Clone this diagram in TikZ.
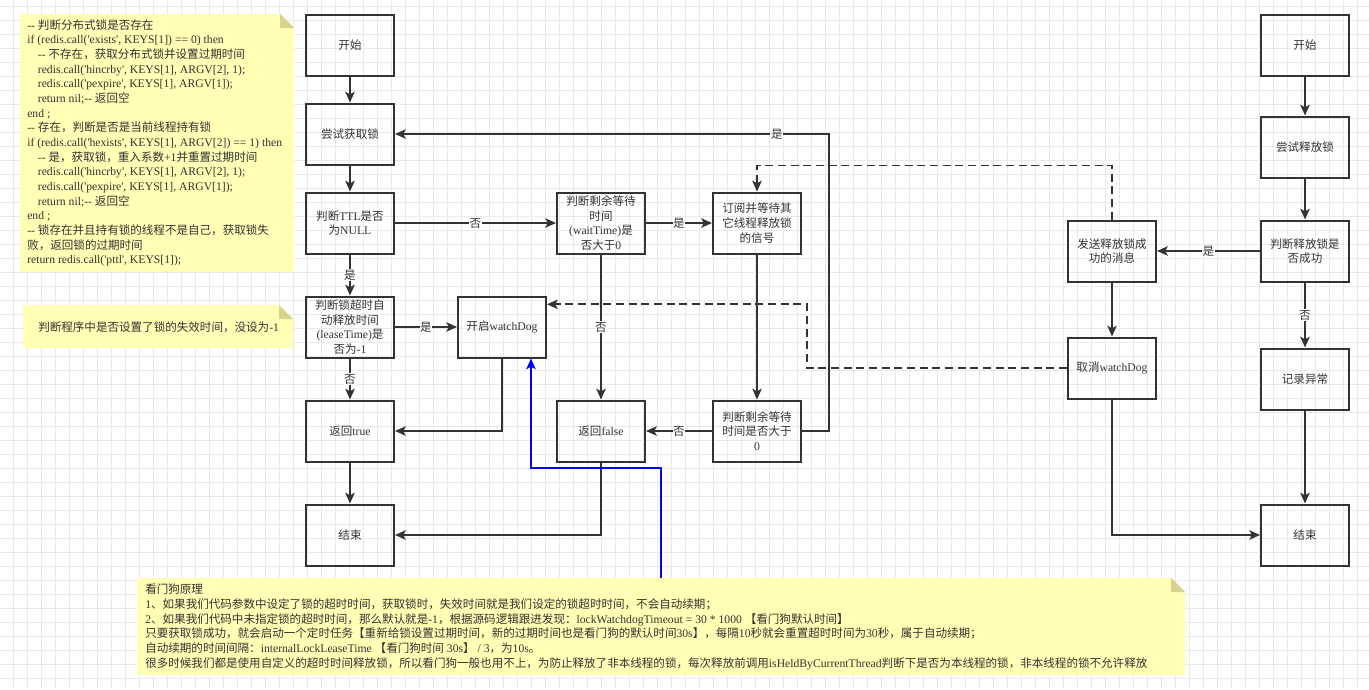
\documentclass[tikz,border=0pt]{standalone}
\usepackage{fontspec}
\setmainfont{Liberation Serif}[Ligatures=TeXOff]
\newfontfamily\cjkfont{Noto Sans CJK SC}[Scale=0.99]
\usetikzlibrary{arrows.meta}
\definecolor{linegray}{HTML}{333333}
\definecolor{gridline}{HTML}{E9E9E9}
\definecolor{notefill}{HTML}{FFFFB5}
\definecolor{notefold}{HTML}{D6D38C}
% Chinese characters get the CJK font
\XeTeXinterchartokenstate=1
\newXeTeXintercharclass\zhclass
\count255="3000 \loop\ifnum\count255<"3040 \XeTeXcharclass\count255=\zhclass\advance\count255 by 1 \repeat
\count255="4E00 \loop\ifnum\count255<"A000 \XeTeXcharclass\count255=\zhclass\advance\count255 by 1 \repeat
\count255="FF00 \loop\ifnum\count255<"FFF0 \XeTeXcharclass\count255=\zhclass\advance\count255 by 1 \repeat
\XeTeXinterchartoks 0 \zhclass = {\cjkfont}
\XeTeXinterchartoks 4095 \zhclass = {\cjkfont}
\XeTeXinterchartoks \zhclass 0 = {\rmfamily}
\XeTeXinterchartoks \zhclass 4095 = {\rmfamily}
\begin{document}
\begin{tikzpicture}[x=0.75pt,y=-0.75pt,
  box/.style={draw=linegray, line width=1.5pt, minimum width=66pt, minimum height=45.75pt,
    align=center, text=linegray, inner sep=1pt, font=\fontsize{8.75}{11}\selectfont},
  edge/.style={draw=linegray, line width=1.4pt, -{Stealth[length=8pt,width=7pt,inset=1.8pt]}},
  lbl/.style={fill=white, inner sep=0.5pt, text=linegray, font=\fontsize{8.75}{9}\selectfont},
  notetext/.style={align=left, inner sep=0pt, text=linegray, font=\fontsize{8.75}{11}\selectfont}]
\useasboundingbox[fill=white] (0,0) rectangle (1369,689);
% grid
\foreach \gx in {13,27,...,1369} \draw[gridline, line width=0.6pt] (\gx,0) -- (\gx,689);
\foreach \gy in {6,20,...,689} \draw[gridline, line width=0.6pt] (0,\gy) -- (1369,\gy);
% notes
\foreach \xa/\ya/\xb/\yb in {20/14/294/272, 23/305/293/348, 137/578/1185/675} {
  \fill[notefill] (\xa,\ya) -- (\xb-14,\ya) -- (\xb,\ya+14) -- (\xb,\yb) -- (\xa,\yb) -- cycle;
  \fill[notefold] (\xb-14,\ya) -- (\xb-14,\ya+14) -- (\xb,\ya+14) -- cycle;
}
\node[notetext, anchor=north west] (luanote) at (27,19) {%
-- 判断分布式锁是否存在\\
if (redis.call('exists', KEYS[1]) == 0) then\\
\hspace*{8pt}-- 不存在，获取分布式锁并设置过期时间\\
\hspace*{8pt}redis.call('hincrby', KEYS[1], ARGV[2], 1);\\
\hspace*{8pt}redis.call('pexpire', KEYS[1], ARGV[1]);\\
\hspace*{8pt}return nil;-- 返回空\\
end ;\\
-- 存在，判断是否是当前线程持有锁\\
if (redis.call('hexists', KEYS[1], ARGV[2]) == 1) then\\
\hspace*{8pt}-- 是，获取锁，重入系数+1并重置过期时间\\
\hspace*{8pt}redis.call('hincrby', KEYS[1], ARGV[2], 1);\\
\hspace*{8pt}redis.call('pexpire', KEYS[1], ARGV[1]);\\
\hspace*{8pt}return nil;-- 返回空\\
end ;\\
-- 锁存在并且持有锁的线程不是自己，获取锁失\\
败，返回锁的过期时间\\
return redis.call('pttl', KEYS[1]);};
\node[notetext, anchor=west] (leasenote) at (38,327) {判断程序中是否设置了锁的失效时间，没设为-1};
\node[notetext, anchor=north west] (dognote) at (145,584) {%
看门狗原理\\
1、如果我们代码参数中设定了锁的超时时间，获取锁时，失效时间就是我们设定的锁超时时间，不会自动续期；\\
2、如果我们代码中未指定锁的超时时间，那么默认就是-1，根据源码逻辑跟进发现：lockWatchdogTimeout = 30 * 1000 【看门狗默认时间】\\
只要获取锁成功，就会启动一个定时任务【重新给锁设置过期时间，新的过期时间也是看门狗的默认时间30s】，每隔10秒就会重置超时时间为30秒，属于自动续期；\\
自动续期的时间间隔：internalLockLeaseTime 【看门狗时间 30s】 / 3，为10s。\\
很多时候我们都是使用自定义的超时时间释放锁，所以看门狗一般也用不上，为防止释放了非本线程的锁，每次释放前调用isHeldByCurrentThread判断下是否为本线程的锁，非本线程的锁不允许释放};
\coordinate (dognotetop) at (661,578);
% lock side
\node[box] (start1) at (350,45) {开始};
\node[box] (try1) at (350,134) {尝试获取锁};
\node[box] (ttl) at (350,223) {判断TTL是否\\为NULL};
\node[box] (lease) at (350,327) {判断锁超时自\\动释放时间\\(leaseTime)是\\否为-1};
\node[box] (rettrue) at (350,431) {返回true};
\node[box] (end1) at (350,535) {结束};
\node[box] (dog) at (502,327) {开启watchDog};
\node[box] (wait) at (601,223) {判断剩余等待\\时间\\(waitTime)是\\否大于0};
\node[box] (retfalse) at (601,431) {返回false};
\node[box] (sub) at (757,223) {订阅并等待其\\它线程释放锁\\的信号};
\node[box] (wait2) at (757,431) {判断剩余等待\\时间是否大于\\0};
% unlock side
\node[box] (start2) at (1305,45) {开始};
\node[box] (tryrel) at (1305,147) {尝试释放锁};
\node[box] (judge) at (1305,251) {判断释放锁是\\否成功};
\node[box] (send) at (1112,251) {发送释放锁成\\功的消息};
\node[box] (cancel) at (1112,368) {取消watchDog};
\node[box] (log) at (1305,379) {记录异常};
\node[box] (end2) at (1305,535) {结束};
% connectors
\draw[edge] (start1) -- (try1);
\draw[edge] (try1) -- (ttl);
\draw[edge] (ttl) -- node[lbl]{是} (lease);
\draw[edge] (ttl) -- node[lbl]{否} (wait);
\draw[edge] (wait) -- node[lbl]{是} (sub);
\draw[edge] (wait) -- node[lbl]{否} (retfalse);
\draw[edge] (lease) -- node[lbl]{是} (dog);
\draw[edge] (lease) -- node[lbl]{否} (rettrue);
\draw[edge] (dog.south) |- (rettrue.east);
\draw[edge] (rettrue) -- (end1);
\draw[edge] (retfalse.south) |- (end1.east);
\draw[edge] (sub) -- (wait2);
\draw[edge] (wait2) -- node[lbl]{否} (retfalse);
\draw[edge] (wait2.east) -- ++(27,0) |- node[lbl, pos=0.56]{是} (try1.east);
\draw[edge] (start2) -- (tryrel);
\draw[edge] (tryrel) -- (judge);
\draw[edge] (judge) -- node[lbl]{是} (send);
\draw[edge] (judge) -- node[lbl]{否} (log);
\draw[edge] (log) -- (end2);
\draw[edge] (send) -- (cancel);
\draw[edge] (cancel.south) |- (end2.west);
% release message wakes up the waiting thread
\draw[edge, dash pattern=on 6pt off 3.5pt] (send.north) -- ++(0,-54) -| (sub.north);
\draw[edge, dash pattern=on 6pt off 3.5pt] (cancel.west) -- ++(-260,0) |- ([yshift=17pt]dog.east);
\draw[edge, draw=blue, line width=1.1pt] (dognotetop) -- (661,468) -| ([xshift=21.75pt]dog.south);
\end{tikzpicture}
\end{document}
